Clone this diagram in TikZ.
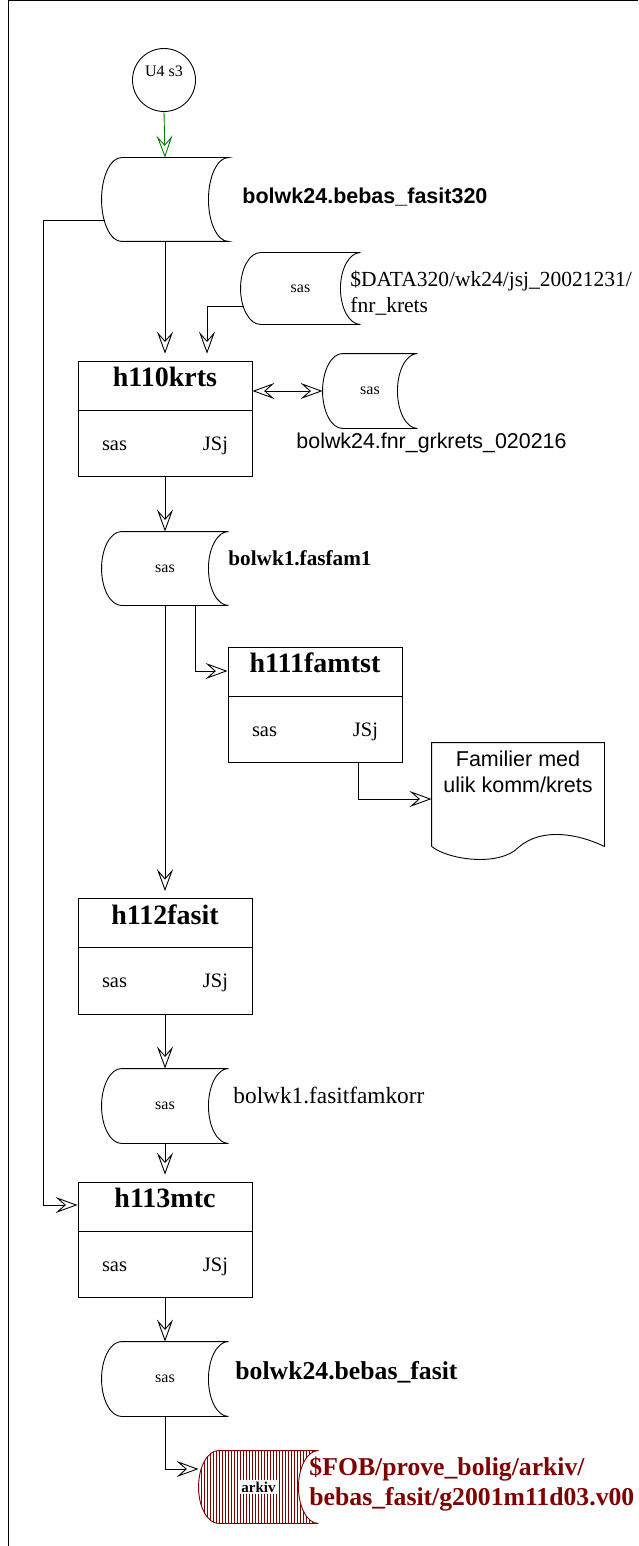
\documentclass[tikz,border=0pt]{standalone}
\usepackage{fontspec}
\setmainfont{Liberation Serif}
\setsansfont{Liberation Sans}
\usetikzlibrary{positioning,arrows.meta,shapes.multipart,calc,patterns}
\definecolor{arkivred}{RGB}{128,0,0}
\definecolor{startgreen}{RGB}{0,128,0}
\newcommand{\fsz}[2]{\fontsize{#1}{#2}\selectfont}
\newcommand{\storeshape}[2][]{%
  \draw[#1] let \p1=(#2.north), \p2=(#2.south), \n1={(\y1-\y2)/2} in
    ([xshift=20pt]#2.north west) arc[start angle=90,end angle=270,x radius=20pt,y radius={\n1*1pt}]
    -- (#2.south east) arc[start angle=270,end angle=90,x radius=20pt,y radius={\n1*1pt}] -- cycle;}
\tikzset{
  flow/.style={-{Stealth[open,length=22pt,width=16pt,inset=9pt]}},
  dflow/.style={{Stealth[open,length=22pt,width=16pt,inset=9pt]}-{Stealth[open,length=22pt,width=16pt,inset=9pt]}},
  store/.style={minimum width=126pt,inner sep=0pt,font=\fsz{16}{18}},
  job/.style={draw,rectangle split,rectangle split parts=2,minimum width=174pt,inner xsep=0pt,inner ysep=0pt},
  dsname/.style={anchor=base west,inner sep=0pt,align=left}
}

\begin{document}
\begin{tikzpicture}[x=1pt,y=-1pt,line width=0.9pt]
\useasboundingbox (0,0) rectangle (638,1546);
\draw (8,1546) -- (8,0.5) -- (638,0.5);

% start
\node[circle,draw,minimum size=63pt,inner sep=0pt,font=\fsz{16}{18}] (u4) at (164,80) {\raisebox{3pt}[0pt][0pt]{U4 s3}};

% data stores
\node[store,minimum height=83pt] (in320) at (165,199.5) {};
\node[store,minimum width=119pt,minimum height=71pt] (fnr) at (300.5,288.5) {sas};
\node[store,minimum width=94pt,minimum height=74pt] (grk) at (370,391) {sas};
\node[store,minimum height=73pt] (fam1) at (165,568.5) {sas};
\node[store,minimum height=74pt] (korr) at (165,1106) {sas};
\node[store,minimum height=74pt] (fasit) at (165,1379) {sas};
\node[store,minimum width=119pt,minimum height=72pt] (arkiv) at (258.5,1487) {};
\foreach \s in {in320,fnr,grk,fam1,korr,fasit} {\storeshape{\s}}
\storeshape[draw=arkivred,pattern=vertical lines,pattern color=arkivred]{arkiv}
\node[fill=white,inner sep=1.5pt,font=\fsz{15}{17}\bfseries] (arkivtag) at (arkiv) {arkiv};

% jobs
\node[job] (h110) at (165,419) {\fsz{28}{30}\bfseries\rule[-23pt]{0pt}{48pt}h110krts\nodepart{two}\fsz{20.5}{24}\rule[-26pt]{0pt}{66pt}\makebox[126pt]{sas\hfill JSj}};
\node[job] (h111) at (315,705) {\fsz{28}{30}\bfseries\rule[-23pt]{0pt}{48pt}h111famtst\nodepart{two}\fsz{20.5}{24}\rule[-26pt]{0pt}{66pt}\makebox[126pt]{sas\hfill JSj}};
\node[job] (h112) at (165,956.5) {\fsz{28}{30}\bfseries\rule[-23pt]{0pt}{48pt}h112fasit\nodepart{two}\fsz{20.5}{24}\rule[-26pt]{0pt}{66pt}\makebox[126pt]{sas\hfill JSj}};
\node[job] (h113) at (165,1240) {\fsz{28}{30}\bfseries\rule[-23pt]{0pt}{48pt}h113mtc\nodepart{two}\fsz{20.5}{24}\rule[-26pt]{0pt}{66pt}\makebox[126pt]{sas\hfill JSj}};

% report
\node[minimum width=172pt,minimum height=103pt,inner sep=0pt] (doc) at (518,794.5) {};
\draw (doc.south west) -- (doc.north west) -- (doc.north east) -- (doc.south east)
  .. controls ([shift={(-25,-12)}]doc.south east) and ([shift={(-62,-20)}]doc.south east) .. ([shift={(-86,1)}]doc.south east)
  .. controls ([shift={(68,20)}]doc.south west) and ([shift={(18,14)}]doc.south west) .. (doc.south west);
\node[anchor=north,align=center,inner sep=2pt,font=\sffamily\fsz{21.5}{26}] (doctext) at ([shift={(0,6)}]doc.north) {Familier med\\ulik komm/krets};

% names
\node[dsname,font=\sffamily\bfseries\fsz{21.5}{26}] (t320) at (242,204) {bolwk24.bebas\_fasit320};
\node[dsname,font=\fsz{21.5}{26}] (tfnr) at (350,312) {\$DATA320/wk24/jsj\_20021231/\\fnr\_krets};
\node[dsname,font=\sffamily\fsz{21.4}{26}] (tgrk) at (296,448) {bolwk24.fnr\_grkrets\_020216};
\node[dsname,font=\bfseries\fsz{21.2}{26}] (tfam1) at (228,565) {bolwk1.fasfam1};
\node[dsname,font=\fsz{23.3}{28}] (tkorr) at (233,1103) {bolwk1.fasitfamkorr};
\node[dsname,font=\bfseries\fsz{25.7}{30}] (tfasit) at (235,1379) {bolwk24.bebas\_fasit};
\node[dsname,text=arkivred,font=\bfseries\fsz{25.7}{30}] (tarkiv) at (309,1505) {\$FOB/prove\_bolig/arkiv/\\bebas\_fasit/g2001m11d03.v00};

% connectors
\draw[flow,startgreen] (u4.south) -- (in320.north);
\draw[flow,shorten >=7pt] (in320.south) -- (h110.north);
\draw[flow,shorten >=7pt] ([shift={(3,17.5)}]fnr.west) -| ([xshift=42pt]h110.north);
\draw[dflow] (h110.east |- grk.west) -- (grk.west);
\draw[flow] (h110.south) -- (fam1.north);
\draw[flow,shorten >=7pt] (fam1.south) -- (h112.north);
\draw[flow] ([xshift=30pt]fam1.south) |- ([shift={(0,-34)}]h111.west);
\draw[flow] ([xshift=43pt]h111.south) |- ([shift={(0,4.5)}]doc.west);
\draw[flow] (h112.south) -- (korr.north);
\draw[flow,shorten >=7pt] (korr.south) -- (h113.north);
\draw[flow] ([shift={(3,20.5)}]in320.west) -- ++(-61,0) |- ([shift={(0,-35)}]h113.west);
\draw[flow] (h113.south) -- (fasit.north);
\draw[flow] (fasit.south) |- ([shift={(0,-18)}]arkiv.west);
\end{tikzpicture}
\end{document}
